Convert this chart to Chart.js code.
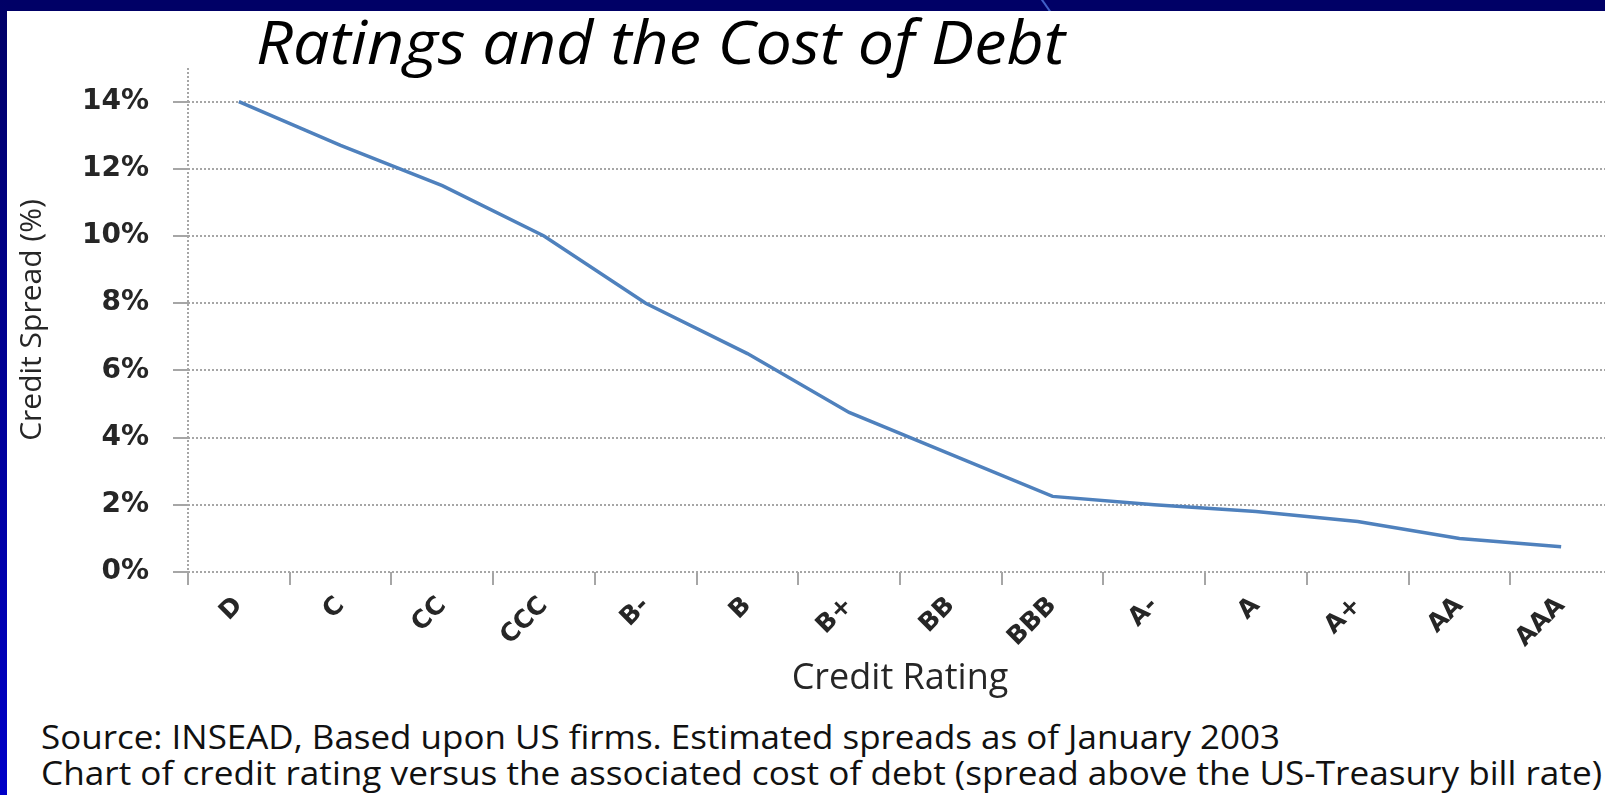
<!DOCTYPE html>
<html>
<head>
<meta charset="utf-8">
<script src="https://cdn.jsdelivr.net/npm/chart.js@4.4.1/dist/chart.umd.min.js"></script>
<style>
  html, body { margin: 0; padding: 0; background: #fff; overflow: hidden; }
  body { width: 1605px; height: 795px; position: relative; }
  #topBand { position: absolute; left: 0; top: 0; width: 1605px; height: 11px; background: #000066; overflow: hidden; }
  #streak { position: absolute; left: 1046px; top: -4px; width: 2px; height: 22px; background: #4060c8; transform: rotate(-35deg); }
  #leftBand { position: absolute; left: 0; top: 0; width: 7px; height: 795px;
    background: linear-gradient(#000066, #0000c8); }
  #chartBox { position: absolute; left: 0; top: 0; width: 1612px; height: 700px; }
  .txt { position: absolute; white-space: nowrap; transform-origin: 0 50%; color: #111; }
  #title { left: 256px; top: 8px; font: italic 60px "Open Sans", sans-serif; line-height: 66px; color: #000; }
  #src1 { left: 41px; top: 718px; font: 32px "Open Sans", sans-serif; line-height: 38px; }
  #src2 { left: 41px; top: 754px; font: 32px "Open Sans", sans-serif; line-height: 38px; }
</style>
</head>
<body>
<div id="chartBox"><canvas id="debtChart"></canvas></div>
<div id="topBand"><div id="streak"></div></div>
<div id="leftBand"></div>
<div class="txt" id="title" data-w="809">Ratings and the Cost of Debt</div>
<div class="txt" id="src1" data-w="1239">Source: INSEAD, Based upon US firms. Estimated spreads as of January 2003</div>
<div class="txt" id="src2" data-w="1561">Chart of credit rating versus the associated cost of debt (spread above the US-Treasury bill rate)</div>
<script>
// credit ratings, worst to best
const ratings = ["D", "C", "CC", "CCC", "B-", "B", "B+", "BB", "BBB", "A-", "A", "A+", "AA", "AAA"];
// spread over T-bill rate, in percent
const spreads = [14, 12.7, 11.5, 10, 8, 6.5, 4.75, 3.5, 2.25, 2, 1.8, 1.5, 1, 0.75];
const yTicks = [0, 2, 4, 6, 8, 10, 12, 14];

// squeeze the html text to the widths seen on the slide
document.querySelectorAll(".txt").forEach(el => {
  const w = el.getBoundingClientRect().width;
  el.style.transform = "scaleX(" + (Number(el.dataset.w) / w) + ")";
});

const gridGray = "#a6a6a6";
const ctx = document.getElementById("debtChart").getContext("2d");
new Chart(ctx, {
  type: "line",
  data: {
    labels: ratings,
    datasets: [{
      label: "Credit Spread",
      data: spreads,
      borderColor: "#4f81bd",
      borderWidth: 3.5,
      pointRadius: 0,
      tension: 0,
      fill: false
    }]
  },
  options: {
    responsive: true,
    maintainAspectRatio: false,
    animation: false,
    layout: { padding: { left: 14, top: 68, right: 0, bottom: 0 } },
    plugins: { legend: { display: false }, tooltip: { enabled: false } },
    scales: {
      x: {
        offset: true,
        afterFit: s => { s.height = 128; },
        grid: {
          offset: true,
          drawOnChartArea: true,
          color: c => c.index === 0 ? gridGray : "rgba(0,0,0,0)",
          lineWidth: 2,
          tickColor: gridGray,
          tickLength: 13,
          tickWidth: 2
        },
        border: { display: false, dash: [2, 2] },
        ticks: {
          autoSkip: false,
          minRotation: 45,
          maxRotation: 45,
          padding: 6,
          color: "#262626",
          font: { family: "DejaVu Sans", size: 25, weight: "bold" }
        },
        title: {
          display: true,
          text: "Credit Rating",
          color: "#262626",
          padding: { top: 0, bottom: 0 },
          font: { family: "Open Sans", size: 36, weight: "500" }
        }
      },
      y: {
        min: 0,
        max: 15,
        afterFit: s => { s.width = 174; },
        afterBuildTicks: s => { s.ticks = yTicks.map(v => ({ value: v })); },
        grid: {
          color: gridGray,
          lineWidth: 2,
          tickColor: gridGray,
          tickLength: 15,
          tickWidth: 2
        },
        border: { display: false, dash: [2, 2] },
        ticks: {
          padding: 24,
          color: "#262626",
          font: { family: "DejaVu Sans", size: 28, weight: "bold" },
          callback: v => v + "%"
        },
        title: {
          display: true,
          text: "Credit Spread (%)",
          color: "#262626",
          padding: { top: 0, bottom: 0 },
          font: { family: "Open Sans", size: 30, weight: "500" }
        }
      }
    }
  }
});
</script>
</body>
</html>
